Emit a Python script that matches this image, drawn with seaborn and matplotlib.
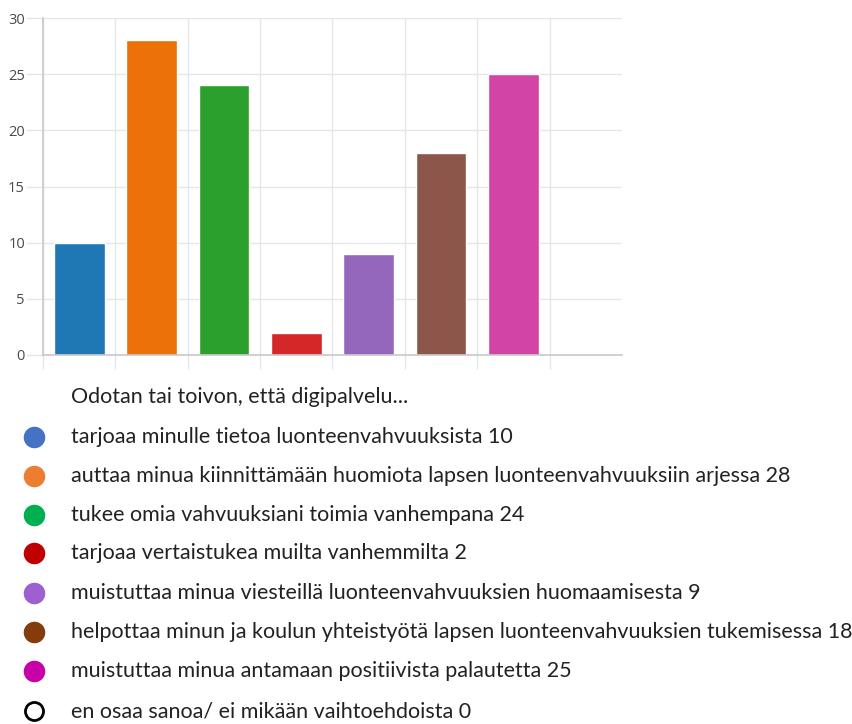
import matplotlib
matplotlib.use("Agg")
import matplotlib.pyplot as plt
from matplotlib.lines import Line2D
import seaborn as sns
import pandas as pd

title = "Odotan tai toivon, että digipalvelu..."
options = [
    "tarjoaa minulle tietoa luonteenvahvuuksista",
    "auttaa minua kiinnittämään huomiota lapsen luonteenvahvuuksiin arjessa",
    "tukee omia vahvuuksiani toimia vanhempana",
    "tarjoaa vertaistukea muilta vanhemmilta",
    "muistuttaa minua viesteillä luonteenvahvuuksien huomaamisesta",
    "helpottaa minun ja koulun yhteistyötä lapsen luonteenvahvuuksien tukemisessa",
    "muistuttaa minua antamaan positiivista palautetta",
    "en osaa sanoa/ ei mikään vaihtoehdoista",
]
counts = [10, 28, 24, 2, 9, 18, 25, 0]
bar_colors = ["#1f77b4", "#ec7108", "#2ca02c", "#d62728",
              "#9467bd", "#8c564b", "#d245a7", "#ffffff"]
dot_colors = ["#4472c4", "#ed7d31", "#00b050", "#c00000",
              "#9e5fd0", "#843c0c", "#c800a8", None]
y_ticks = [0, 5, 10, 15, 20, 25, 30]

sns.set_theme(style="white")
plt.rcParams["font.family"] = ["Lato", "DejaVu Sans"]

fig = plt.figure(figsize=(8.53, 7.24), dpi=100)
ax = fig.add_axes([43 / 853, 1 - 355 / 724, 579 / 853, 337 / 724])

df = pd.DataFrame({"option": options, "count": counts})
sns.barplot(data=df, x="option", y="count", hue="option", palette=bar_colors,
            order=options, hue_order=options, width=0.7, legend=False,
            saturation=1, ax=ax)

ax.set_xlim(-0.5, len(options) - 0.5)
ax.set_ylim(0, 30)
ax.set_yticks(y_ticks)
ax.set_yticklabels([str(v) for v in y_ticks], color="#4a4a4a", fontsize=10.5,
                   family=["Open Sans", "DejaVu Sans"])
ax.set_xticks([i - 0.5 for i in range(len(options))])
ax.set_xticklabels([])
ax.set_xlabel("")
ax.set_ylabel("")

grid_c = "#e6e6e6"
ax.grid(True, axis="both", color=grid_c, linewidth=1)
ax.set_axisbelow(True)
ax.tick_params(axis="y", length=12, color=grid_c, width=1, pad=1, left=True)
ax.tick_params(axis="x", length=10, color=grid_c, width=1, bottom=True)
for side in ["top", "right"]:
    ax.spines[side].set_visible(False)
ax.spines["left"].set_color("#c8c8c8")
ax.spines["bottom"].set_color("#c8c8c8")
ax.spines["left"].set_linewidth(1.2)
ax.spines["bottom"].set_linewidth(1.2)

# Legend block below the chart
text_x = 71 / 853
dot_x = 34 / 853
fs = 15.5
fig.text(text_x, 1 - 397 / 724, title, fontsize=fs, color="#222222",
         va="center", ha="left")
row_y = [437, 476, 515, 553, 593, 632, 671, 711]
for label, value, color, yy in zip(options, counts, dot_colors, row_y):
    fy = 1 - yy / 724
    fig.text(text_x, fy, f"{label} {value}", fontsize=fs, color="#222222",
             va="center", ha="left")
    if color is None:
        mk = Line2D([dot_x], [fy], marker="o", markersize=13,
                    markerfacecolor="white", markeredgecolor="black",
                    markeredgewidth=2, transform=fig.transFigure)
    else:
        mk = Line2D([dot_x], [fy], marker="o", markersize=14.5,
                    markerfacecolor=color, markeredgecolor=color,
                    transform=fig.transFigure)
    fig.add_artist(mk)

fig.savefig("out.png", dpi=100)
